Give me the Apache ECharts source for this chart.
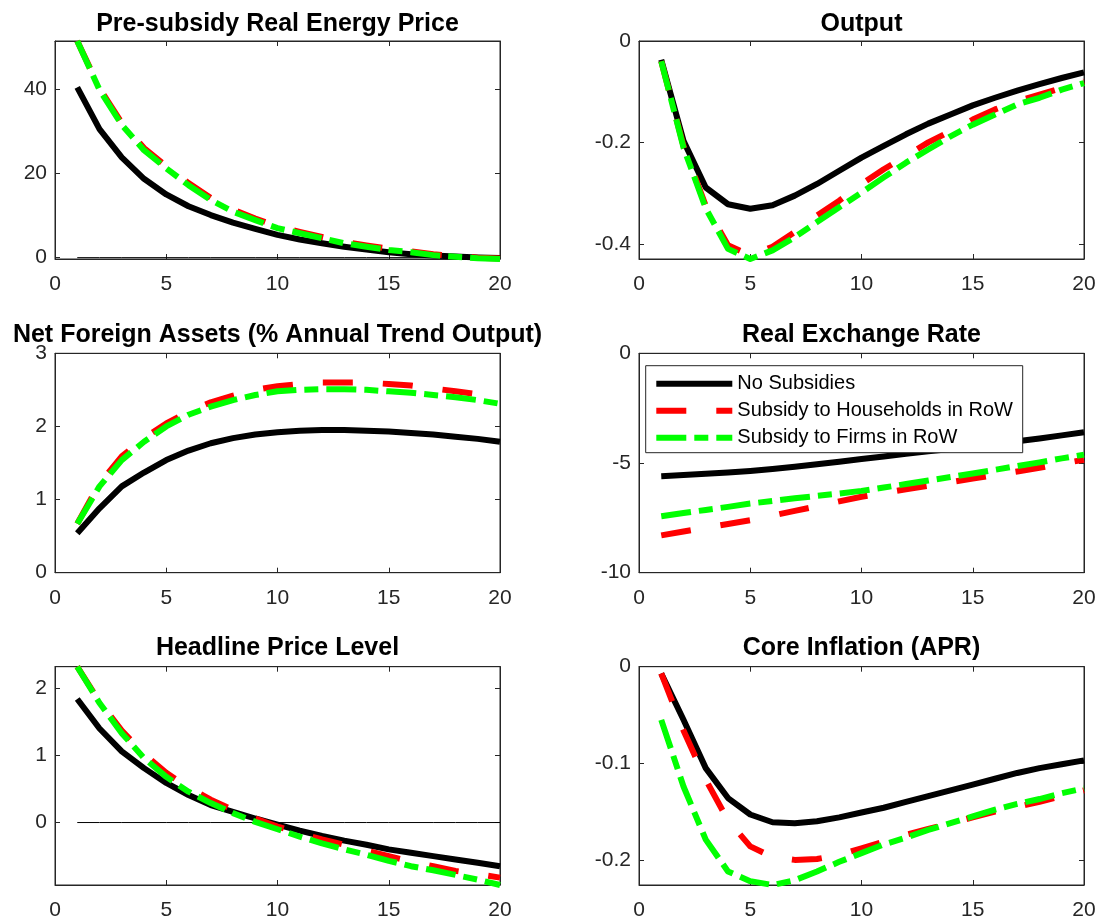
<!DOCTYPE html>
<html><head><meta charset="utf-8">
<script src="https://cdn.jsdelivr.net/npm/echarts@6/dist/echarts.min.js"></script>
<style>html,body{margin:0;padding:0;background:#fff}#chart{width:1101px;height:922px}</style>
</head><body><div id="chart"></div>
<script>
const periods = [1,2,3,4,5,6,7,8,9,10,11,12,13,14,15,16,17,18,19,20];
const seriesNames = ['No Subsidies', 'Subsidy to Households in RoW', 'Subsidy to Firms in RoW'];
const panelTitles = ['Pre-subsidy Real Energy Price', 'Output', 'Net Foreign Assets (% Annual Trend Output)', 'Real Exchange Rate', 'Headline Price Level', 'Core Inflation (APR)'];

// Pre-subsidy Real Energy Price
const energyNone = [40.4, 30.5, 23.8, 18.7, 15.0, 12.2, 10.1, 8.3, 6.8, 5.4, 4.3, 3.4, 2.6, 1.9, 1.3, 0.8, 0.5, 0.25, 0.05, -0.1];
const energyHh = [51.4, 40.2, 32.0, 26.0, 21.7, 17.7, 14.2, 11.4, 9.3, 7.4, 6.1, 4.9, 3.7, 2.9, 2.1, 1.5, 0.8, 0.4, 0.0, -0.2];
const energyFirms = [51.4, 39.8, 31.5, 25.5, 21.2, 17.2, 13.7, 10.9, 8.9, 7.0, 5.8, 4.6, 3.4, 2.6, 1.8, 1.3, 0.6, 0.2, -0.15, -0.32];
// Output
const outputNone = [-0.037, -0.197, -0.289, -0.322, -0.331, -0.324, -0.305, -0.282, -0.256, -0.230, -0.207, -0.184, -0.163, -0.145, -0.127, -0.112, -0.098, -0.085, -0.073, -0.062];
const outputHh = [-0.040, -0.207, -0.325, -0.403, -0.423, -0.406, -0.377, -0.344, -0.315, -0.282, -0.253, -0.227, -0.200, -0.178, -0.155, -0.135, -0.119, -0.106, -0.093, -0.080];
const outputFirms = [-0.040, -0.210, -0.330, -0.410, -0.430, -0.413, -0.387, -0.357, -0.328, -0.299, -0.269, -0.240, -0.214, -0.188, -0.165, -0.145, -0.125, -0.112, -0.096, -0.083];
// Net Foreign Assets
const nfaNone = [0.54, 0.88, 1.18, 1.37, 1.54, 1.67, 1.77, 1.84, 1.89, 1.92, 1.94, 1.95, 1.95, 1.94, 1.93, 1.91, 1.89, 1.86, 1.83, 1.79];
const nfaHh = [0.67, 1.22, 1.59, 1.84, 2.04, 2.20, 2.33, 2.42, 2.50, 2.55, 2.58, 2.60, 2.60, 2.60, 2.58, 2.56, 2.52, 2.48, 2.44, 2.39];
const nfaFirms = [0.67, 1.18, 1.54, 1.79, 2.00, 2.16, 2.27, 2.36, 2.43, 2.48, 2.50, 2.51, 2.51, 2.50, 2.48, 2.46, 2.43, 2.40, 2.36, 2.31];
// Real Exchange Rate
const rerNone = [-5.60, -5.55, -5.49, -5.43, -5.36, -5.27, -5.17, -5.06, -4.94, -4.82, -4.70, -4.58, -4.47, -4.36, -4.25, -4.13, -4.01, -3.88, -3.74, -3.60];
const rerHh = [-8.30, -8.12, -7.95, -7.78, -7.61, -7.40, -7.18, -6.97, -6.75, -6.54, -6.37, -6.20, -6.04, -5.87, -5.71, -5.55, -5.39, -5.22, -5.03, -4.85];
const rerFirms = [-7.43, -7.28, -7.14, -7.00, -6.85, -6.73, -6.61, -6.50, -6.39, -6.27, -6.12, -5.96, -5.80, -5.64, -5.48, -5.31, -5.14, -4.97, -4.79, -4.62];
// Headline Price Level
const priceNone = [1.84, 1.40, 1.06, 0.81, 0.59, 0.41, 0.26, 0.16, 0.06, -0.03, -0.12, -0.20, -0.27, -0.33, -0.40, -0.45, -0.50, -0.55, -0.60, -0.65];
const priceHh = [2.32, 1.80, 1.37, 1.02, 0.74, 0.52, 0.34, 0.19, 0.06, -0.06, -0.16, -0.25, -0.33, -0.42, -0.50, -0.58, -0.65, -0.72, -0.77, -0.82];
const priceFirms = [2.32, 1.78, 1.33, 0.96, 0.68, 0.46, 0.29, 0.14, 0.01, -0.10, -0.21, -0.31, -0.40, -0.48, -0.57, -0.65, -0.71, -0.78, -0.85, -0.93];
// Core Inflation (APR)
const coreNone = [-0.007, -0.055, -0.105, -0.136, -0.153, -0.161, -0.162, -0.160, -0.156, -0.151, -0.146, -0.140, -0.134, -0.128, -0.122, -0.116, -0.110, -0.105, -0.101, -0.097];
const coreHh = [-0.007, -0.066, -0.117, -0.159, -0.186, -0.197, -0.200, -0.199, -0.195, -0.188, -0.181, -0.174, -0.168, -0.162, -0.156, -0.150, -0.145, -0.140, -0.134, -0.128];
const coreFirms = [-0.055, -0.124, -0.179, -0.212, -0.222, -0.226, -0.221, -0.212, -0.202, -0.193, -0.184, -0.177, -0.169, -0.162, -0.155, -0.148, -0.142, -0.137, -0.131, -0.126];

// Axis limits and tick labels
const xTicks = [0, 5, 10, 15, 20];
const yMin = [-0.32, -0.43, 0, -10, -0.93, -0.226];
const yMax = [51.4, 0, 3, 0, 2.32, 0];
const yTicks = [[0, 20, 40], [-0.4, -0.2, 0], [0, 1, 2, 3], [-10, -5, 0], [0, 1, 2], [-0.2, -0.1, 0]];
const zeroLinePanels = [0, 4];

const panelData = [
  [energyNone, energyHh, energyFirms],
  [outputNone, outputHh, outputFirms],
  [nfaNone, nfaHh, nfaFirms],
  [rerNone, rerHh, rerFirms],
  [priceNone, priceHh, priceFirms],
  [coreNone, coreHh, coreFirms]
];

const FONT = '"Liberation Sans", Arial, Helvetica, sans-serif';
const AX = '#262626';
const colors = ['#000000', '#ff0000', '#00ff00'];
const dashes = ['solid', [30, 30], [30, 8, 14, 8]];
const colLeft = [55, 639];
const rowTop = [41, 353.3, 666.7];
const rowH = [218, 219.4, 218.3];
const gW = 445;
const titleY = [24, 335.3, 648.2];

const grids = [], xAxes = [], yAxes = [], series = [], graphics = [];
for (let i = 0; i < 6; i++) {
  const r = Math.floor(i / 2), c = i % 2;
  grids.push({left: colLeft[c], top: rowTop[r], width: gW, height: rowH[r], show: true,
    borderColor: AX, borderWidth: 1, backgroundColor: '#fff', containLabel: false});
  for (const top of [false, true]) {
    xAxes.push({type: 'value', gridIndex: i, position: top ? 'top' : 'bottom', min: 0, max: 20, interval: 5,
      axisLine: {show: true, onZero: false, lineStyle: {color: AX, width: 1}},
      axisTick: {show: true, inside: true, length: 5, customValues: xTicks, lineStyle: {color: AX, width: 1}},
      axisLabel: {show: !top, margin: 15, color: AX, fontSize: 21, fontFamily: FONT, customValues: xTicks},
      splitLine: {show: false}});
  }
  for (const right of [false, true]) {
    yAxes.push({type: 'value', gridIndex: i, position: right ? 'right' : 'left', min: yMin[i], max: yMax[i],
      axisLine: {show: true, onZero: false, lineStyle: {color: AX, width: 1}},
      axisTick: {show: true, inside: true, length: 5, customValues: yTicks[i], lineStyle: {color: AX, width: 1}},
      axisLabel: {show: !right, margin: 8, color: AX, fontSize: 21, fontFamily: FONT, customValues: yTicks[i]},
      splitLine: {show: false}});
  }
  if (zeroLinePanels.indexOf(i) >= 0) {
    series.push({type: 'line', name: 'zero' + i, xAxisIndex: 2 * i, yAxisIndex: 2 * i,
      data: periods.map(p => [p, 0]), symbol: 'none', silent: true,
      lineStyle: {color: '#000', width: 1}, z: 1});
  }
  panelData[i].forEach((vals, k) => {
    series.push({type: 'line', name: seriesNames[k], xAxisIndex: 2 * i, yAxisIndex: 2 * i,
      data: periods.map((p, j) => [p, vals[j]]), symbol: 'none', showSymbol: false,
      lineStyle: {color: colors[k], width: 6, type: dashes[k], cap: 'butt', join: 'round'},
      itemStyle: {color: colors[k]}, z: 2 + k, emphasis: {disabled: true}});
  });
  graphics.push({type: 'text', x: colLeft[c] + gW / 2, y: titleY[r], z: 100,
    style: {text: panelTitles[i], font: 'bold 25px ' + FONT, fill: '#000', textAlign: 'center', textVerticalAlign: 'middle'}});
}

const chart = echarts.init(document.getElementById('chart'), null, {renderer: 'canvas'});
chart.setOption({
  animation: false,
  backgroundColor: '#fff',
  grid: grids, xAxis: xAxes, yAxis: yAxes, series: series,
  graphic: graphics,
  legend: {show: true, orient: 'vertical', left: 645.7, top: 365.7, padding: [8, 9.7, 5, 7.6],
    itemWidth: 76, itemHeight: 20, itemGap: 7, backgroundColor: '#fff', borderColor: AX, borderWidth: 1, borderRadius: 0,
    textStyle: {fontSize: 20, color: '#000', fontFamily: FONT, lineHeight: 20},
    lineStyle: {width: 6}, itemStyle: {opacity: 0},
    data: seriesNames, selectedMode: false, z: 10}
});
</script></body></html>
